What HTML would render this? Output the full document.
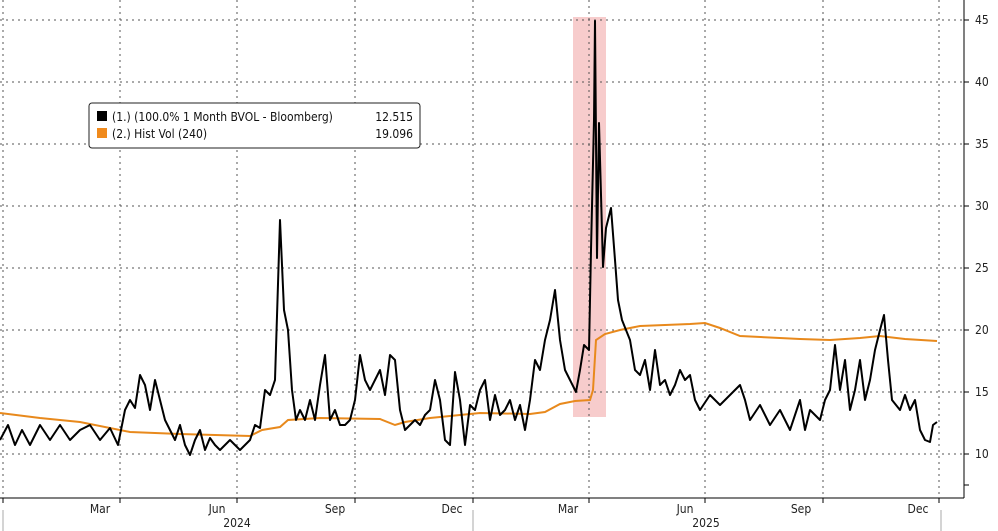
<!DOCTYPE html>
<html><head><meta charset="utf-8"><style>
body{margin:0;background:#fff;}
svg{display:block;font-family:"DejaVu Sans Condensed","Liberation Sans",sans-serif;}
</style></head><body>
<svg width="998" height="531" viewBox="0 0 998 531" xmlns="http://www.w3.org/2000/svg">
<rect width="998" height="531" fill="#fff"/>
<rect x="573" y="17" width="33" height="400" fill="#f7cccc"/>
<g stroke="#555" stroke-width="1" stroke-dasharray="2,4">
<line x1="0" y1="20" x2="964" y2="20"/><line x1="0" y1="82" x2="964" y2="82"/>
<line x1="0" y1="144" x2="964" y2="144"/><line x1="0" y1="206" x2="964" y2="206"/>
<line x1="0" y1="268" x2="964" y2="268"/><line x1="0" y1="330" x2="964" y2="330"/>
<line x1="0" y1="392" x2="964" y2="392"/><line x1="0" y1="454" x2="964" y2="454"/>
<line x1="3" y1="0" x2="3" y2="498"/><line x1="120" y1="0" x2="120" y2="498"/>
<line x1="237" y1="0" x2="237" y2="498"/><line x1="355" y1="0" x2="355" y2="498"/>
<line x1="473" y1="0" x2="473" y2="498"/><line x1="589" y1="0" x2="589" y2="498"/>
<line x1="705" y1="0" x2="705" y2="498"/><line x1="823" y1="0" x2="823" y2="498"/>
<line x1="939" y1="0" x2="939" y2="498"/>
</g>
<g stroke="#000" stroke-width="1">
<line x1="0" y1="498" x2="964" y2="498"/>
<line x1="964" y1="0" x2="964" y2="498"/>
<line x1="964" y1="20" x2="969" y2="20"/><line x1="964" y1="82" x2="969" y2="82"/>
<line x1="964" y1="144" x2="969" y2="144"/><line x1="964" y1="206" x2="969" y2="206"/>
<line x1="964" y1="268" x2="969" y2="268"/><line x1="964" y1="330" x2="969" y2="330"/>
<line x1="964" y1="392" x2="969" y2="392"/><line x1="964" y1="454" x2="969" y2="454"/>
<line x1="964" y1="485" x2="969" y2="485"/>
<line x1="3" y1="498" x2="3" y2="503"/><line x1="120" y1="498" x2="120" y2="503"/>
<line x1="237" y1="498" x2="237" y2="503"/><line x1="355" y1="498" x2="355" y2="503"/>
<line x1="473" y1="498" x2="473" y2="503"/><line x1="589" y1="498" x2="589" y2="503"/>
<line x1="705" y1="498" x2="705" y2="503"/><line x1="823" y1="498" x2="823" y2="503"/>
<line x1="939" y1="498" x2="939" y2="503"/>
</g>
<line x1="473" y1="510" x2="473" y2="531" stroke="#aaa"/>
<line x1="3" y1="510" x2="3" y2="531" stroke="#aaa"/>
<line x1="941" y1="510" x2="941" y2="531" stroke="#aaa"/>
<g font-size="12" fill="#222">
<text x="975" y="24">45</text><text x="975" y="86">40</text><text x="975" y="148">35</text>
<text x="975" y="210">30</text><text x="975" y="272">25</text><text x="975" y="334">20</text>
<text x="975" y="396">15</text><text x="975" y="458">10</text>
</g>
<g font-size="12" fill="#222" text-anchor="middle">
<text x="100" y="513">Mar</text><text x="217" y="513">Jun</text><text x="335" y="513">Sep</text>
<text x="452" y="513">Dec</text><text x="568" y="513">Mar</text><text x="685" y="513">Jun</text>
<text x="801" y="513">Sep</text><text x="918" y="513">Dec</text>
<text x="237" y="527">2024</text><text x="706" y="527">2025</text>
</g>
<polyline fill="none" stroke="#e8891c" stroke-width="2" points="0,413 40,418 80,422 130,432 180,434 250,436 262,430 280,427 288,420 320,418 380,419 395,425 405,422 430,418 460,415 480,413 530,414 545,412 560,404 575,401 590,400 593,390 596,340 605,334 620,330 640,326 690,324 705,323 720,328 740,336 800,339 830,340 860,338 880,336 905,339 937,341"/>
<polyline fill="none" stroke="#000" stroke-width="2" stroke-linejoin="round" points="0,440 8,425 15,445 22,430 30,445 40,425 50,440 60,425 70,440 80,430 90,425 100,440 110,428 118,445 125,410 130,400 135,408 140,375 145,385 150,410 155,380 160,400 165,420 170,430 175,440 180,425 185,445 190,455 195,440 200,430 205,450 210,438 215,445 220,450 230,440 240,450 250,440 255,425 260,428 265,390 270,395 275,380 280,220 284,310 288,330 292,390 296,420 300,410 305,420 310,400 315,420 320,385 325,355 330,420 335,410 340,425 345,425 350,420 355,400 360,355 365,380 370,390 375,380 380,370 385,395 390,355 395,360 400,410 405,430 410,425 415,420 420,425 425,415 430,410 435,380 440,400 445,440 450,445 455,372 460,400 465,445 470,405 475,410 480,390 485,380 490,420 495,395 500,415 505,410 510,400 515,420 520,405 525,430 530,400 535,360 540,370 545,340 550,320 555,290 560,340 565,370 570,380 576,392 580,370 584,345 589,350 591,250 594,120 595,21 597,258 599,123 603,267 606,228 611,208 615,260 618,300 622,320 626,330 630,340 635,370 640,375 645,360 650,390 655,350 660,385 665,380 670,395 675,385 680,370 685,380 690,375 695,400 700,410 710,395 720,405 730,395 740,385 745,400 750,420 760,405 770,425 780,410 790,430 800,400 805,430 810,410 820,420 825,400 830,390 835,345 840,390 845,360 850,410 855,390 860,360 865,400 870,380 875,350 880,330 884,315 888,360 892,400 900,410 905,395 910,410 915,400 920,430 925,440 930,442 933,425 937,422"/>
<rect x="89" y="103" width="331" height="45" rx="3" fill="#fff" stroke="#222"/>
<rect x="97" y="111" width="10" height="10" fill="#000"/>
<rect x="97" y="128" width="10" height="10" fill="#f08a1c"/>
<g font-size="12" fill="#111">
<text x="112" y="121">(1.)  (100.0% 1 Month BVOL - Bloomberg)</text>
<text x="112" y="138">(2.) Hist Vol (240)</text>
<text x="413" y="121" text-anchor="end">12.515</text>
<text x="413" y="138" text-anchor="end">19.096</text>
</g>
</svg>
</body></html>
